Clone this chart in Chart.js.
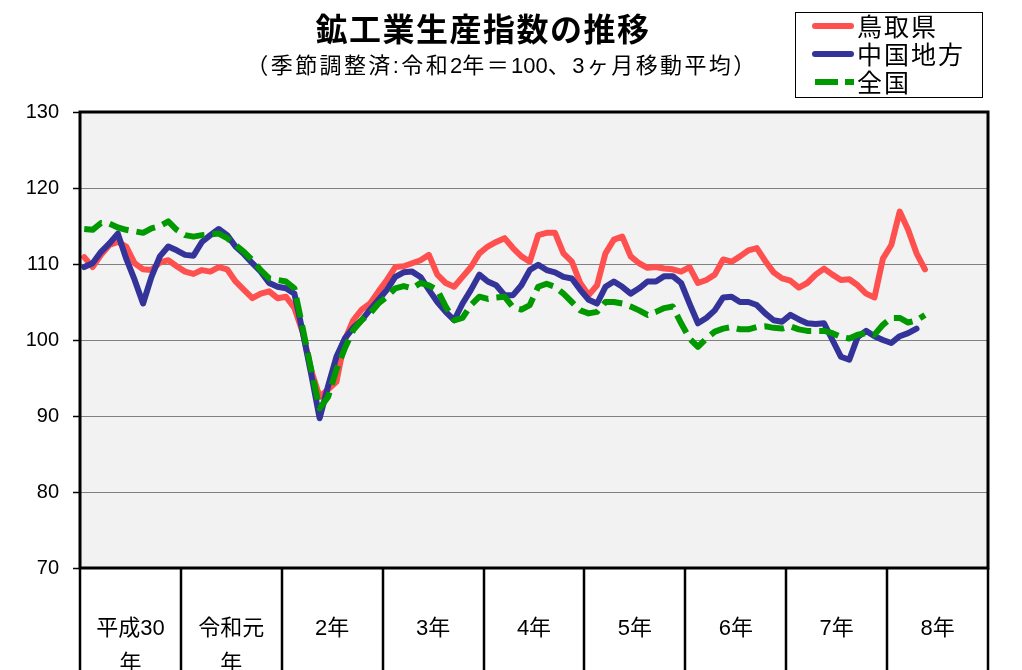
<!DOCTYPE html>
<html lang="ja">
<head>
<meta charset="utf-8">
<title>鉱工業生産指数の推移</title>
<script src="https://cdn.jsdelivr.net/npm/chart.js@4.4.1/dist/chart.umd.min.js"></script>
<style>
  html, body { margin: 0; padding: 0; background: #fff; }
  body {
    width: 1022px; height: 670px; overflow: hidden; position: relative;
    font-family: "Liberation Sans", "Noto Sans CJK JP", sans-serif; color: #000;
  }
  #chart { position: absolute; left: 0; top: 0; }
  .title {
    position: absolute; left: 0; top: 9px; width: 966px;
    text-align: center; font-size: 32px; font-weight: bold; line-height: 42px;
    letter-spacing: 1.5px;
  }
  .subtitle {
    position: absolute; left: 0; top: 51px; width: 1004px;
    text-align: center; font-size: 22px; line-height: 30px; letter-spacing: 2.4px;
  }
  .subtitle .n { letter-spacing: 0; }
  .legend {
    position: absolute; left: 795px; top: 12px; width: 186px; height: 84px;
    border: 1px solid #000; background: #fff;
  }
  .legend .row { position: absolute; left: 0; height: 28px; width: 186px; }
  .legend svg { position: absolute; left: 16px; top: 8px; }
  .legend span {
    position: absolute; left: 61px; top: -1px; font-size: 25px; line-height: 28px;
    letter-spacing: 2px;
    font-family: "Noto Sans CJK JP", sans-serif;
  }
</style>
</head>
<body>
<canvas id="chart" width="1022" height="670"></canvas>
<div class="title">鉱工業生産指数の推移</div>
<div class="subtitle">（季節調整済:令和<span class="n">2</span>年＝<span class="n">100</span>、3ヶ月移動平均）</div>
<div class="legend">
  <div class="row" style="top:-1px">
    <svg width="42" height="12"><line x1="3" y1="6" x2="39" y2="6" stroke="#ff5050" stroke-width="6" stroke-linecap="round"/></svg>
    <span>鳥取県</span>
  </div>
  <div class="row" style="top:27px">
    <svg width="42" height="12"><line x1="3" y1="6" x2="39" y2="6" stroke="#333399" stroke-width="6" stroke-linecap="round"/></svg>
    <span>中国地方</span>
  </div>
  <div class="row" style="top:55px">
    <svg width="42" height="12"><line x1="3" y1="6" x2="42" y2="6" stroke="#009900" stroke-width="6" stroke-dasharray="23 7"/></svg>
    <span>全国</span>
  </div>
</div>
<script>
// year groups on the x axis (12 months each)
const yearLabels = [['平成30', '年'], ['令和元', '年'], '2年', '3年', '4年', '5年', '6年', '7年', '8年'];
const yearKeys = ['H30', 'R1', 'R2', 'R3', 'R4', 'R5', 'R6', 'R7', 'R8'];

// 3-month moving average, seasonally adjusted (R2 = 100)
const tottori = [
  110.9, 109.6, 111.2, 112.5, 112.9, 112.3, 110.1, 109.3, 109.2, 110.2, 110.5, 109.7,
  109.0, 108.7, 109.2, 109.0, 109.6, 109.3, 107.7, 106.6, 105.5, 106.1, 106.4, 105.5,
  105.7, 104.2, 101.0, 96.0, 92.5, 93.5, 94.5, 100.0, 102.6, 104.0, 104.8, 106.4,
  107.9, 109.6, 109.7, 110.1, 110.5, 111.2, 108.6, 107.5, 107.0, 108.3, 109.6, 111.4,
  112.3, 112.9, 113.4, 112.1, 111.0, 110.3, 113.8, 114.1, 114.1, 111.4, 110.3, 107.5,
  105.9, 107.2, 111.4, 113.2, 113.6, 111.0, 110.1, 109.5, 109.6, 109.4, 109.3, 109.0,
  109.6, 107.5, 107.9, 108.6, 110.6, 110.3, 111.0, 111.8, 112.1, 110.4, 108.9, 108.1,
  107.8, 106.9, 107.5, 108.6, 109.4, 108.6, 107.9, 108.0, 107.2, 106.1, 105.6, 110.7,
  112.5, 116.9, 114.5, 111.4, 109.3
];
const chugoku = [
  109.6, 110.1, 111.6, 112.7, 114.0, 110.7, 107.9, 104.8, 108.3, 111.0, 112.3, 111.8,
  111.2, 111.1, 112.9, 113.8, 114.6, 113.8, 112.3, 111.3, 110.1, 109.0, 107.5, 107.0,
  106.8, 106.1, 101.0, 95.5, 89.7, 93.9, 97.8, 100.2, 101.6, 102.6, 104.0, 105.3,
  106.6, 108.3, 108.9, 109.0, 108.3, 106.6, 105.0, 103.7, 102.6, 104.8, 106.6, 108.6,
  107.7, 107.2, 105.9, 105.9, 107.2, 109.2, 109.9, 109.2, 108.9, 108.3, 108.1, 106.6,
  105.3, 104.8, 107.0, 107.7, 107.0, 106.1, 106.8, 107.7, 107.7, 108.4, 108.4, 107.5,
  104.8, 102.2, 102.9, 103.9, 105.6, 105.7, 105.0, 105.0, 104.6, 103.5, 102.6, 102.4,
  103.3, 102.7, 102.2, 102.1, 102.2, 100.0, 97.8, 97.4, 100.4, 101.2, 100.5, 100.0,
  99.6, 100.5, 100.9, 101.5
];
const zenkoku = [
  114.6, 114.5, 115.4, 115.3, 114.8, 114.5, 114.3, 114.1, 114.7, 115.0, 115.6, 114.5,
  113.8, 113.6, 113.8, 113.9, 114.0, 113.4, 112.5, 111.6, 110.5, 109.2, 108.1, 107.9,
  107.7, 106.8, 101.5, 96.1, 91.0, 92.5, 96.1, 98.9, 101.3, 102.6, 103.5, 104.8,
  105.7, 106.8, 107.1, 106.8, 107.5, 107.2, 106.6, 104.4, 102.6, 102.9, 104.6, 105.7,
  105.4, 105.6, 105.7, 104.3, 104.0, 104.6, 107.0, 107.4, 107.0, 106.1, 105.0, 103.9,
  103.5, 103.7, 105.0, 105.0, 104.8, 104.4, 103.9, 103.3, 103.7, 104.2, 104.4, 102.2,
  100.2, 99.1, 100.2, 101.1, 101.5, 101.7, 101.4, 101.4, 101.7, 101.8, 101.6, 101.5,
  101.8, 101.4, 101.2, 101.2, 101.2, 100.9, 100.4, 100.2, 100.7, 100.9, 100.7, 102.0,
  102.9, 102.9, 102.3, 102.6, 103.3
];

const months = [];
yearKeys.forEach(y => {
  for (let m = 1; m <= 12; m++) months.push(y + '.' + m);
});

const fontFamily = '"Liberation Sans", "Noto Sans CJK JP", sans-serif';

// grey plot area, black frame and the year separators under the axis
const plotFrame = {
  id: 'plotFrame',
  beforeDraw(chart) {
    const { ctx, chartArea: a } = chart;
    ctx.save();
    ctx.fillStyle = '#f2f2f2';
    ctx.fillRect(a.left, a.top, a.right - a.left, a.bottom - a.top);
    ctx.restore();
  },
  afterDraw(chart) {
    const { ctx, chartArea: a } = chart;
    const x = chart.scales.x;
    const half = (x.getPixelForValue(1) - x.getPixelForValue(0)) / 2;
    ctx.save();
    ctx.strokeStyle = '#000';
    ctx.lineWidth = 2.5;
    ctx.beginPath();
    for (let k = 0; k <= yearLabels.length; k++) {
      const px = Math.round(x.getPixelForValue(k * 12) - half);
      ctx.moveTo(px, a.bottom);
      ctx.lineTo(px, chart.height);
    }
    ctx.stroke();
    ctx.lineWidth = 3;
    ctx.strokeRect(a.left, a.top, a.right - a.left, a.bottom - a.top);
    ctx.restore();
  }
};

new Chart(document.getElementById('chart'), {
  type: 'line',
  data: {
    labels: months,
    datasets: [
      {
        label: '鳥取県', data: tottori, order: 3,
        borderColor: '#ff5050', borderWidth: 6,
        borderCapStyle: 'round', borderJoinStyle: 'round'
      },
      {
        label: '中国地方', data: chugoku, order: 2,
        borderColor: '#333399', borderWidth: 6,
        borderCapStyle: 'round', borderJoinStyle: 'round'
      },
      {
        label: '全国', data: zenkoku, order: 1,
        borderColor: '#009900', borderWidth: 6,
        borderDash: [20, 8], borderCapStyle: 'butt', borderJoinStyle: 'round'
      }
    ]
  },
  options: {
    responsive: false,
    animation: false,
    devicePixelRatio: 1,
    elements: { point: { radius: 0 }, line: { tension: 0, fill: false } },
    layout: { padding: { top: 112, right: 34, left: 0, bottom: 0 } },
    plugins: {
      legend: { display: false },
      title: { display: false },
      tooltip: { enabled: false }
    },
    scales: {
      x: {
        offset: true,
        grid: { display: false, offset: true },
        border: { display: false },
        ticks: {
          autoSkip: false, maxRotation: 0, minRotation: 0,
          labelOffset: -4.2, padding: 35,
          color: '#000',
          font: { size: 22, family: fontFamily, lineHeight: 1.6 },
          callback: function(value, index) {
            return index % 12 === 6 ? yearLabels[Math.floor(index / 12)] : '';
          }
        },
        afterFit: function(scale) { scale.height = 102; }
      },
      y: {
        min: 70, max: 130,
        grid: { color: '#808080', lineWidth: 1, tickLength: 7, tickColor: '#000', tickWidth: 1.5 },
        border: { display: false },
        ticks: {
          stepSize: 10, padding: 14, color: '#000',
          font: { size: 20, family: fontFamily }
        },
        afterFit: function(scale) { scale.width = 80; }
      }
    }
  },
  plugins: [plotFrame]
});
</script>
</body>
</html>
